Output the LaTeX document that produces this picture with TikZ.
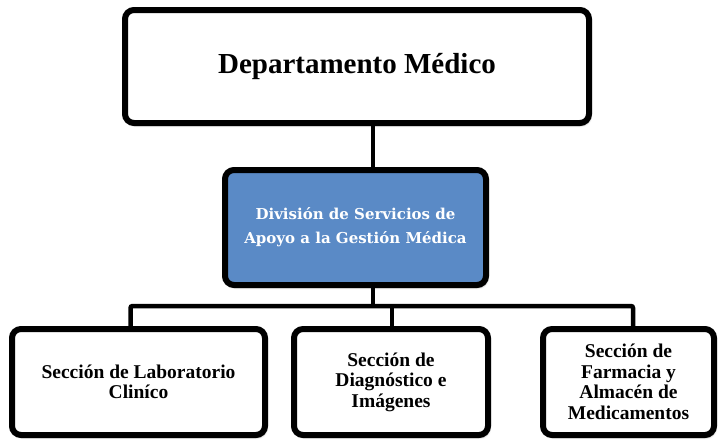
\documentclass[tikz,border=0pt]{standalone}
\usepackage{fontspec}
\setmainfont{Liberation Serif}
\newfontfamily\slabfont{DejaVu Serif}
\usepackage{tikz}
\usetikzlibrary{calc,shadows.blur}
\definecolor{divblue}{HTML}{5A8AC6}

\tikzset{
  unit/.style={draw=black, line width=6pt, rounded corners=9pt, fill=white, align=center,
    font=\bfseries, blur shadow={shadow xshift=1.5pt, shadow yshift=-2.5pt, shadow opacity=35, shadow blur steps=6}},
  sectionbox/.style={unit, minimum height=106pt, font=\fontsize{19.5}{20.5}\selectfont\bfseries},
  link/.style={line width=4.5pt, rounded corners=2pt}
}

\begin{document}
\begin{tikzpicture}[x=1pt,y=-1pt]
\useasboundingbox (0,0) rectangle (719,442);
\node[unit, minimum width=464pt, minimum height=113pt, font=\fontsize{29}{34}\selectfont\bfseries] (dep) at (357,66.5) {Departamento Médico};
\node[unit, fill=divblue, text=white, minimum width=261pt, minimum height=115pt, font=\slabfont\fontsize{15}{24}\selectfont\bfseries] (div) at (355.5,227.5) {División de Servicios de\\Apoyo a la Gestión Médica};
\node[sectionbox, minimum width=253pt] (lab) at (138.5,382) {Sección de Laboratorio\\Cliníco};
\node[sectionbox, minimum width=194pt] (diag) at (391,382) {Sección de\\Diagnóstico e\\Imágenes};
\node[sectionbox, minimum width=171pt] (farm) at (628.5,382) {Sección de\\Farmacia y\\Almacén de\\Medicamentos};
\coordinate (spine) at (373,306);
% connectors
\draw[link] (dep.south -| spine) -- (div.north -| spine);
\draw[link] (div.south -| spine) -- (spine);
\draw[link] ([xshift=-8pt]lab.north) |- ([xshift=4.5pt]farm.north |- spine) -- ([xshift=4.5pt]farm.north);
\draw[link] ([xshift=1pt]diag.north) -- ([xshift=1pt]diag.north |- spine);
\end{tikzpicture}
\end{document}
